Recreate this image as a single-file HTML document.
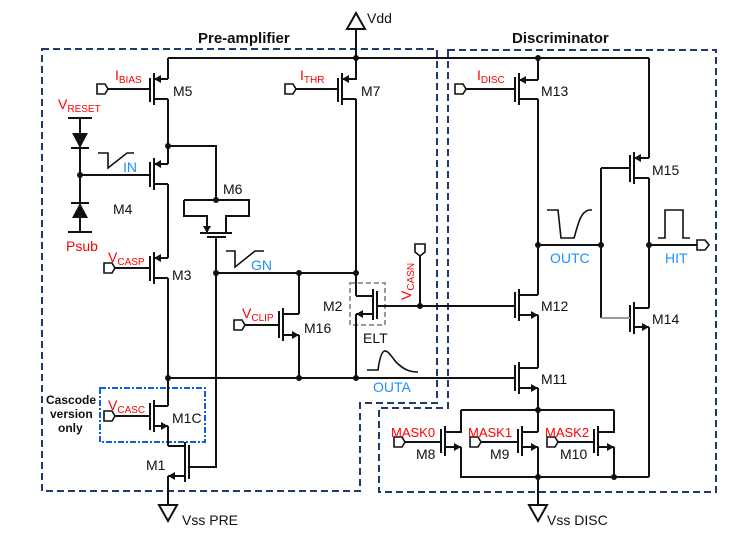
<!DOCTYPE html>
<html><head><meta charset="utf-8"><style>
html,body{margin:0;padding:0;background:#fff;width:754px;height:534px;overflow:hidden}
svg{display:block}
text{font-family:"Liberation Sans",Arial,sans-serif;font-size:14px}
.r{fill:#ff0000}.b{fill:#1e90ff}.k{fill:#111}
</style></head><body>
<svg width="754" height="534" viewBox="0 0 754 534" xmlns="http://www.w3.org/2000/svg">
<g fill="none" stroke="#1f3b6b" stroke-width="2" stroke-dasharray="7,4">
<path d="M42,49 H437 V403 H360 V491 H42 Z"/>
<path d="M448,50 H716 V492 H379 V408 H448 Z"/>
</g>
<rect x="100" y="388" width="105" height="54" fill="none" stroke="#1060e0" stroke-width="2" stroke-dasharray="6,2,2,2"/>
<rect x="350" y="283" width="35" height="42" fill="none" stroke="#999" stroke-width="2" stroke-dasharray="5,3"/>
<g stroke="#111" stroke-width="2" fill="none">
<path d="M356,29 V58 M168,58 H649"/>
<path d="M347,29 L356,13 L365,29 Z"/>
<!-- column 168 -->
<path d="M168,58 V79 M168,99 V164 M168,184 V258 M168,278 V406 M168,426 V446 M168,476 V505"/>
<!-- M5 -->
<path d="M168,79 H154 M168,99 H154 M154,73 V105 M150,78 V102 M105,89 H150"/>
<!-- M7 -->
<path d="M356,58 V79 H342 M356,99 H342 M356,99 V296 M356,314 V378 M342,73 V105 M338,78 V102 M293,89 H338"/>
<!-- M4 -->
<path d="M168,164 H154 M168,184 H154 M154,158 V190 M150,162 V187 M80,175 H150"/>
<!-- M6 -->
<path d="M168,146 H216 V200 M184,200 H249 V216 H226 V233 M184,200 V216 H207 V233 M200,233 H232 M207,237 H226 M216,237 V467 H189"/>
<!-- diodes -->
<path d="M68,118 H92 M80,118 V232 M68,232 H92"/>
<!-- M3 -->
<path d="M168,258 H154 M168,278 H154 M154,252 V284 M150,256 V281 M112,268 H150"/>
<!-- GN / OUTA -->
<path d="M216,273 H356 M299,273 V314 M299,335 V378 M168,378 H515"/>
<!-- M16 -->
<path d="M299,314 H283 M299,335 H283 M283,308 V341 M279,311 V338 M242,325 H279"/>
<!-- M2 -->
<path d="M356,296 H373 M356,314 H373 M373,289 V320 M377,291 V319 M377,306 H515 M420,252 V306"/>
<!-- M1C -->
<path d="M168,406 H154 M168,426 H154 M154,400 V432 M150,403 V430 M112,416 H150"/>
<!-- M1 -->
<path d="M168,446 H185 M168,476 H185 M185,442 V482 M189,445 V479"/>
<path d="M159,505 L168,521 L177,505 Z"/>
<!-- column 538 -->
<path d="M538,58 V80 M538,99 V295 M538,315 V368 M538,388 V432 M538,447 V505"/>
<!-- M13 -->
<path d="M538,80 H519 M538,99 H519 M519,73 V105 M515,77 V102 M463,89 H515"/>
<!-- column 649 -->
<path d="M649,58 V158 M649,178 V308 M649,327 V477"/>
<path d="M538,245 H601 M601,168 V318 M649,245 H705"/>
<!-- M15 -->
<path d="M649,158 H634 M649,178 H634 M634,152 V184 M630,155 V182 M601,168 H630"/>
<!-- M14 -->
<path d="M649,308 H634 M649,327 H634 M634,302 V334 M630,305 V332"/>
<path d="M601,318 H630" stroke="#999"/>
<!-- M12 -->
<path d="M538,295 H519 M538,315 H519 M519,289 V321 M515,292 V318"/>
<!-- M11 -->
<path d="M538,368 H519 M538,388 H519 M519,362 V394 M515,365 V391"/>
<!-- mask -->
<path d="M461,410 H614 M461,410 V432 H445 M461,447 H445 M461,447 V477 H649 M445,426 V456 M441,429 V453 M402,442 H441"/>
<path d="M538,432 H522 M538,447 H522 M522,426 V456 M518,429 V453 M478,442 H518"/>
<path d="M614,410 V432 H598 M614,447 H598 M614,447 V477 M598,426 V456 M594,429 V453 M555,442 H594"/>
<path d="M529,505 L538,521 L547,505 Z"/>
<!-- waveforms -->
<path d="M98,153 H108 V168 L127,153 H134" stroke-width="1.6"/>
<path d="M226,251 H235 V267 L255,251 H264" stroke-width="1.6"/>
<path d="M367,370 H378 C382,340 388,352 396,362 C404,370 410,372 418,372" stroke-width="1.6"/>
<path d="M547,210 H558 L561,238 H574 C578,225 580,212 589,210 H592" stroke-width="1.6"/>
<path d="M658,238 H665 V210 H683 V238 H690" stroke-width="1.6"/>
</g>
<g stroke="#111" stroke-width="1.6" fill="#fff">
<path d="M97,84 H105 L108,89 L105,94 H97 Z"/>
<path d="M285,84 H293 L296,89 L293,94 H285 Z"/>
<path d="M104,263 H112 L115,268 L112,273 H104 Z"/>
<path d="M234,320 H242 L245,325 L242,330 H234 Z"/>
<path d="M104,411 H112 L115,416 L112,421 H104 Z"/>
<path d="M455,84 H463 L466,89 L463,94 H455 Z"/>
<path d="M394,437 H402 L405,442 L402,447 H394 Z"/>
<path d="M470,437 H478 L481,442 L478,447 H470 Z"/>
<path d="M547,437 H555 L558,442 L555,447 H547 Z"/>
<path d="M697,240 H705 L709,245 L705,250 H697 Z"/>
<path d="M415,244 V252 L420,256 L425,252 V244 Z"/>
</g>
<g fill="#111">
<path d="M154,79 l7,-4 v8z"/><path d="M342,79 l7,-4 v8z"/><path d="M154,164 l7,-4 v8z"/><path d="M154,258 l7,-4 v8z"/>
<path d="M168,426 l-7,-4 v8z"/><path d="M168,476 l7,-4 v8z"/>
<path d="M299,335 l-7,-4 v8z"/><path d="M356,314 l7,-4 v8z"/>
<path d="M207,233 l-4,-7 h8z"/>
<path d="M519,80 l7,-4 v8z"/><path d="M634,158 l7,-4 v8z"/>
<path d="M538,315 l-7,-4 v8z"/><path d="M538,388 l-7,-4 v8z"/><path d="M649,327 l-7,-4 v8z"/>
<path d="M461,447 l-7,-4 v8z"/><path d="M538,447 l-7,-4 v8z"/><path d="M614,447 l-7,-4 v8z"/>
<path d="M72,133 H88 L80,148 Z"/><path d="M72,218 H88 L80,203 Z"/>
<rect x="71" y="147" width="18" height="2"/><rect x="71" y="202" width="18" height="2"/>
<circle cx="356" cy="58" r="3"/><circle cx="538" cy="58" r="3"/><circle cx="168" cy="146" r="3"/><circle cx="80" cy="175" r="3"/>
<circle cx="216" cy="200" r="3"/><circle cx="216" cy="273" r="3"/><circle cx="299" cy="273" r="3"/><circle cx="356" cy="273" r="3"/>
<circle cx="168" cy="378" r="3"/><circle cx="299" cy="378" r="3"/><circle cx="356" cy="378" r="3"/><circle cx="420" cy="306" r="3"/>
<circle cx="538" cy="245" r="3"/><circle cx="601" cy="245" r="3"/><circle cx="649" cy="245" r="3"/>
<circle cx="538" cy="410" r="3"/><circle cx="538" cy="477" r="3"/><circle cx="614" cy="477" r="3"/>
</g>
<text x="198" y="43" class="k" style="font-weight:bold;font-size:15px">Pre-amplifier</text>
<text x="512" y="43" class="k" style="font-weight:bold;font-size:15px">Discriminator</text>
<text x="367" y="23" class="k">Vdd</text>
<text x="173" y="96" class="k">M5</text><text x="361" y="96" class="k">M7</text>
<text x="113" y="214" class="k">M4</text><text x="223" y="194" class="k">M6</text>
<text x="172" y="280" class="k">M3</text><text x="304" y="333" class="k">M16</text>
<text x="323" y="311" class="k">M2</text><text x="363" y="343" class="k">ELT</text>
<text x="172" y="423" class="k">M1C</text><text x="146" y="470" class="k">M1</text>
<text x="182" y="525" class="k">Vss PRE</text><text x="547" y="525" class="k">Vss DISC</text>
<text x="541" y="96" class="k">M13</text><text x="652" y="175" class="k">M15</text>
<text x="541" y="311" class="k">M12</text><text x="652" y="324" class="k">M14</text>
<text x="541" y="384" class="k">M11</text>
<text x="416" y="459" class="k">M8</text><text x="490" y="459" class="k">M9</text><text x="560" y="459" class="k">M10</text>
<text x="46" y="404" class="k" style="font-weight:bold;font-size:12px">Cascode</text>
<text x="50" y="418" class="k" style="font-weight:bold;font-size:12px">version</text>
<text x="58" y="432" class="k" style="font-weight:bold;font-size:12px">only</text>
<text x="115" y="80" class="r">I<tspan font-size="10" dy="3">BIAS</tspan></text>
<text x="300" y="80" class="r">I<tspan font-size="10" dy="3">THR</tspan></text>
<text x="477" y="80" class="r">I<tspan font-size="10" dy="3">DISC</tspan></text>
<text x="58" y="109" class="r">V<tspan font-size="10" dy="3">RESET</tspan></text>
<text x="66" y="251" class="r">Psub</text>
<text x="108" y="262" class="r">V<tspan font-size="10" dy="3">CASP</tspan></text>
<text x="242" y="318" class="r">V<tspan font-size="10" dy="3">CLIP</tspan></text>
<text x="108" y="410" class="r">V<tspan font-size="10" dy="3">CASC</tspan></text>
<text transform="translate(411,300) rotate(-90)" class="r">V<tspan font-size="10" dy="3">CASN</tspan></text>
<text x="391" y="437" class="r" style="font-size:13px">MASK0</text><text x="468" y="437" class="r" style="font-size:13px">MASK1</text><text x="545" y="437" class="r" style="font-size:13px">MASK2</text>
<text x="123" y="172" class="b">IN</text><text x="251" y="270" class="b">GN</text>
<text x="373" y="392" class="b">OUTA</text><text x="550" y="263" class="b">OUTC</text><text x="665" y="263" class="b">HIT</text>
</svg>
</body></html>
